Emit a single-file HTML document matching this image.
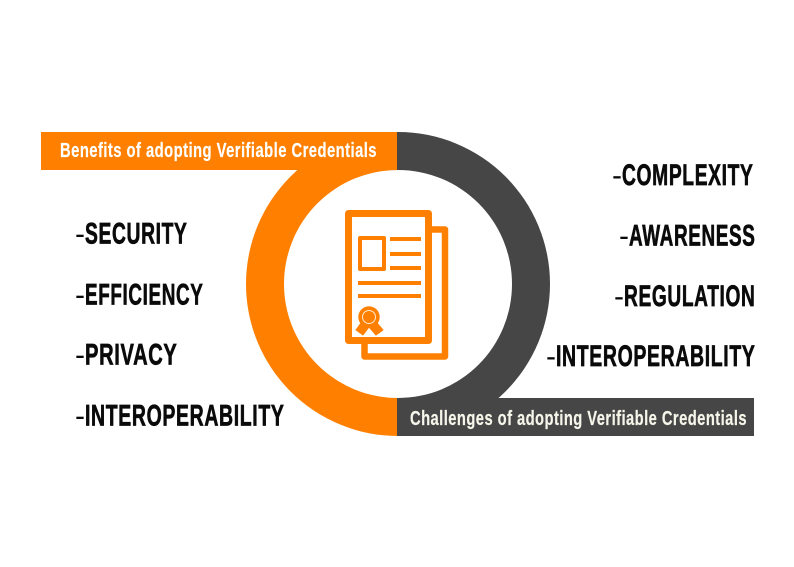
<!DOCTYPE html>
<html>
<head>
<meta charset="utf-8">
<style>
html,body{margin:0;padding:0;background:#fff;width:794px;height:567px;overflow:hidden}
svg{display:block}
text{font-family:"Liberation Sans",sans-serif;font-weight:bold}
.l{font-size:30px;fill:#0a0a0a;stroke:#0a0a0a;stroke-width:.7px;letter-spacing:1px}
.d{font-weight:normal;stroke-width:0}
.b{font-size:20px;letter-spacing:.6px;stroke-width:.2px}
</style>
</head>
<body>
<svg width="794" height="567" viewBox="0 0 794 567" xmlns="http://www.w3.org/2000/svg">
<rect width="794" height="567" fill="#fff"/>
<path d="M398 132A152 152 0 0 1 398 436L398 398A114 114 0 0 0 398 170Z" fill="#464646"/>
<path d="M398 132A152 152 0 0 0 398 436L398 398A114 114 0 0 1 398 170Z" fill="#ff8000"/>
<rect x="41" y="132" width="356" height="38" fill="#ff8000"/>
<rect x="397" y="132" width="1.500" height="38" fill="#464646"/>
<rect x="397" y="398" width="357" height="38" fill="#464646"/>

<g fill="none" stroke="#ff8000">
<path d="M428 229.500H445V356.500H364.500V340" stroke-width="6.500" stroke-linejoin="round"/>
<rect x="348.500" y="213.500" width="80" height="127" stroke-width="7" stroke-linejoin="round" fill="#fff"/>
<rect x="360" y="238" width="24" height="31" stroke-width="4" stroke-linejoin="round"/>
<path d="M390 239H421M390 254H421M390 268H421M358 283H421M358 296H421" stroke-width="4"/>
</g>
<path d="M361 323L356 330L363 335L369 327L376 335L383 330L377 323Z" fill="#ff8000" stroke="#ff8000" stroke-width="1" stroke-linejoin="round"/>
<circle cx="369" cy="317" r="10.700" fill="#ff8000"/>
<circle cx="369" cy="317" r="6.500" fill="#ff8000" stroke="#ffe8d0" stroke-width="1"/>

<text class="b" x="60" y="157" fill="#fff" stroke="#fff" textLength="317" lengthAdjust="spacingAndGlyphs">Benefits of adopting Verifiable Credentials</text>
<text class="b" x="410" y="425" fill="#f5f5ea" stroke="#f5f5ea" textLength="337" lengthAdjust="spacingAndGlyphs">Challenges of adopting Verifiable Credentials</text>

<text class="l" y="243.500"><tspan class="d" x="75">-</tspan><tspan x="85" textLength="102.500" lengthAdjust="spacingAndGlyphs">SECURITY</tspan></text>
<text class="l" y="304.500"><tspan class="d" x="75">-</tspan><tspan x="85" textLength="118.500" lengthAdjust="spacingAndGlyphs">EFFICIENCY</tspan></text>
<text class="l" y="364.500"><tspan class="d" x="75">-</tspan><tspan x="85" textLength="92.500" lengthAdjust="spacingAndGlyphs">PRIVACY</tspan></text>
<text class="l" y="425.500"><tspan class="d" x="75">-</tspan><tspan x="85" textLength="199.500" lengthAdjust="spacingAndGlyphs">INTEROPERABILITY</tspan></text>

<text class="l" y="185"><tspan class="d" x="612">-</tspan><tspan x="622" textLength="131.500" lengthAdjust="spacingAndGlyphs">COMPLEXITY</tspan></text>
<text class="l" y="245.500"><tspan class="d" x="619">-</tspan><tspan x="629" textLength="126.500" lengthAdjust="spacingAndGlyphs">AWARENESS</tspan></text>
<text class="l" y="306"><tspan class="d" x="614">-</tspan><tspan x="624" textLength="131.500" lengthAdjust="spacingAndGlyphs">REGULATION</tspan></text>
<text class="l" y="366"><tspan class="d" x="546">-</tspan><tspan x="556" textLength="199.500" lengthAdjust="spacingAndGlyphs">INTEROPERABILITY</tspan></text>
</svg>
</body>
</html>
